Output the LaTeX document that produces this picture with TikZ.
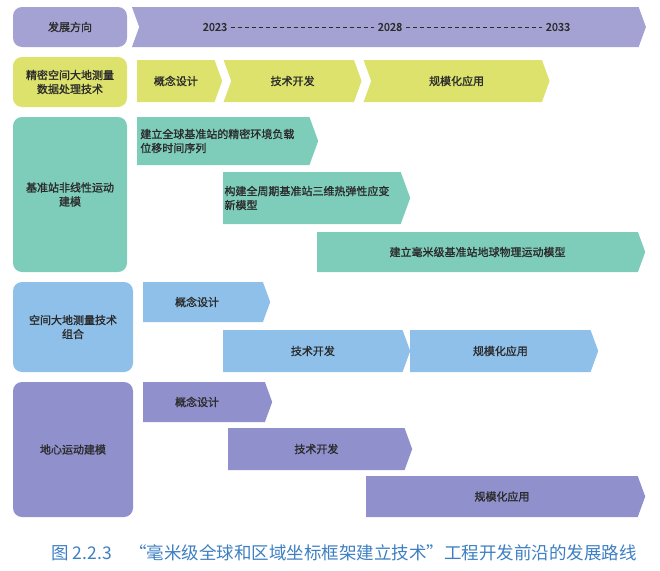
\documentclass[tikz,border=0pt]{standalone}
\usepackage{fontspec}
\newfontfamily\cjk[AutoFakeBold=1.3]{Noto Sans CJK SC}
\usetikzlibrary{shapes.symbols}
\definecolor{hdr}{HTML}{A3A2D2}
\definecolor{ylw}{HTML}{DCE26C}
\definecolor{tea}{HTML}{7ECDBB}
\definecolor{blu}{HTML}{8EC0EA}
\definecolor{prp}{HTML}{8F90CC}
\definecolor{txt}{HTML}{2B2B2B}
\definecolor{cap}{HTML}{3D7FC2}
\tikzset{
  label box/.style={rounded corners=9pt, inner sep=0pt, align=center, text=txt, font=\cjk\bfseries\fontsize{11}{14}\selectfont},
  step arrow/.style={signal, signal to=east, signal pointer angle=140, inner sep=0pt, anchor=west, text=txt, font=\cjk\bfseries\fontsize{11}{14}\selectfont},
}
\begin{document}
\begin{tikzpicture}[x=1pt,y=-1pt]
\useasboundingbox (0,0) rectangle (660,570);
% left column
\node[label box, fill=hdr, minimum width=114pt, minimum height=40pt] (dir) at (70,27) {发展方向};
\node[label box, fill=ylw, minimum width=114pt, minimum height=50pt] (geo) at (70,82) {精密空间大地测量\\数据处理技术};
\node[label box, fill=tea, minimum width=114pt, minimum height=155pt] (sta) at (70,194.5) {基准站非线性运动\\建模};
\node[label box, fill=blu, minimum width=120pt, minimum height=90pt] (cmb) at (73,327) {空间大地测量技术\\组合};
\node[label box, fill=prp, minimum width=120pt, minimum height=135pt] (geoc) at (73,449.5) {地心运动建模};
% timeline header
\node[step arrow, signal from=west, fill=hdr, minimum width=514pt, minimum height=40pt] (time) at (139,27) {};
\node[text=txt, font=\cjk\bfseries\fontsize{11}{12}\selectfont] (y23) at (215,27) {2023};
\node[text=txt, font=\cjk\bfseries\fontsize{11}{12}\selectfont] (y28) at (390,27) {2028};
\node[text=txt, font=\cjk\bfseries\fontsize{11}{12}\selectfont] (y33) at (558,27) {2033};
\draw[txt, dash pattern=on 4pt off 3pt] (y23) -- (y28);
\draw[txt, dash pattern=on 4pt off 3pt] (y28) -- (y33);
% row 1
\node[step arrow, fill=ylw, minimum width=85pt, minimum height=42pt] (g1) at (137,81) {概念设计};
\node[step arrow, signal from=west, fill=ylw, minimum width=138pt, minimum height=42pt] (g2) at (231,81) {技术开发};
\node[step arrow, signal from=west, fill=ylw, minimum width=186pt, minimum height=42pt] (g3) at (371,81) {规模化应用};
% row 2
\node[step arrow, fill=tea, minimum width=181pt, minimum height=48pt, align=left, text width=166pt] (s1) at (137,141) {建立全球基准站的精密环境负载\\位移时间序列};
\node[step arrow, fill=tea, minimum width=187pt, minimum height=52pt, align=left, text width=175pt] (s2) at (223,198) {构建全周期基准站三维热弹性应变\\新模型};
\node[step arrow, fill=tea, minimum width=328pt, minimum height=40pt] (s3) at (317,252) {建立毫米级基准站地球物理运动模型};
% row 3
\node[step arrow, fill=blu, minimum width=127pt, minimum height=40pt, align=left, text width=112pt] (c1) at (143,302) {\hspace*{28pt}概念设计};
\node[step arrow, fill=blu, minimum width=187pt, minimum height=42pt] (c2) at (223,351) {技术开发};
\node[step arrow, fill=blu, minimum width=188pt, minimum height=42pt] (c3) at (410,351) {规模化应用};
% row 4
\node[step arrow, fill=prp, minimum width=129pt, minimum height=40pt, align=left, text width=114pt] (m1) at (143,402) {\hspace*{28pt}概念设计};
\node[step arrow, fill=prp, minimum width=184pt, minimum height=42pt] (m2) at (228,449) {技术开发};
\node[step arrow, fill=prp, minimum width=279pt, minimum height=41pt] (m3) at (366,496.5) {规模化应用};
% caption
\node[text=cap, font=\cjk\fontsize{17.5}{20}\selectfont, anchor=west] (title) at (48,553) {图 2.2.3\quad “毫米级全球和区域坐标框架建立技术”工程开发前沿的发展路线};
\end{tikzpicture}
\end{document}
